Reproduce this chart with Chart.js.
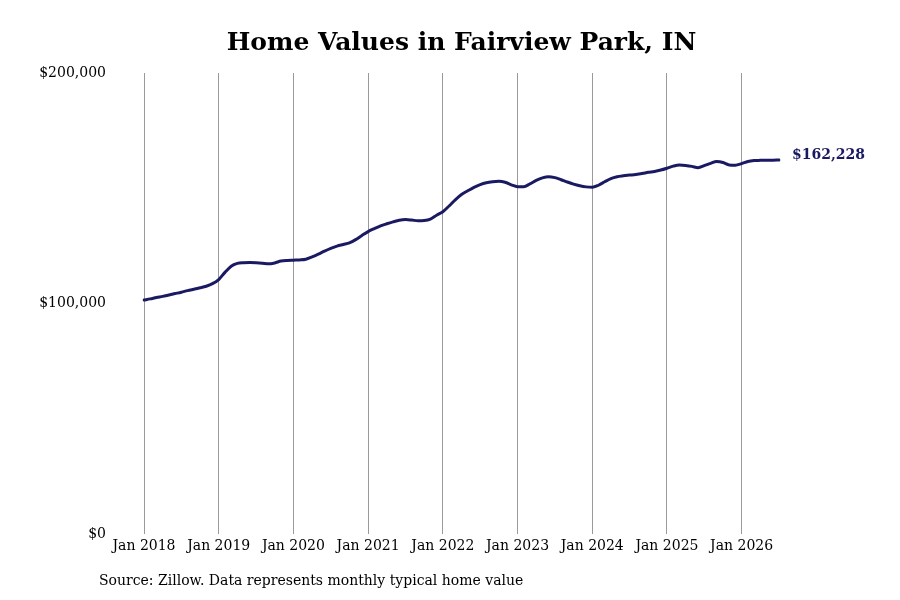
<!DOCTYPE html>
<html>
<head>
<meta charset="utf-8">
<script src="https://cdn.jsdelivr.net/npm/chart.js@4.4.1/dist/chart.umd.min.js"></script>
<style>
  html, body { margin: 0; padding: 0; background: #ffffff; }
  #wrap { width: 900px; height: 600px; position: relative; }
</style>
</head>
<body>
<div id="wrap"><canvas id="homeChart" width="900" height="600"></canvas></div>
<script>
// Data (typical home value, monthly)
const years = [2018, 2019, 2020, 2021, 2022, 2023, 2024, 2025, 2026];
const monthNames = ['Jan', 'Feb', 'Mar', 'Apr', 'May', 'Jun', 'Jul', 'Aug', 'Sep', 'Oct', 'Nov', 'Dec'];

const values2018 = [101500, 102000, 102600, 103100, 103700, 104300, 104900, 105600, 106200, 106800, 107500, 108600];
const values2019 = [110400, 113500, 116200, 117400, 117700, 117800, 117700, 117500, 117200, 117600, 118400, 118700];
const values2020 = [118800, 118900, 119200, 120200, 121400, 122700, 123900, 124900, 125600, 126300, 127700, 129500];
const values2021 = [131200, 132500, 133700, 134600, 135400, 136100, 136400, 136200, 135900, 136000, 136600, 138300];
const values2022 = [139800, 142300, 145000, 147300, 148900, 150400, 151600, 152400, 152800, 153000, 152600, 151500];
const values2023 = [150700, 150700, 151900, 153400, 154500, 155000, 154600, 153700, 152700, 151800, 151100, 150600];
const values2024 = [150400, 151300, 152800, 154200, 155000, 155400, 155700, 156000, 156400, 156900, 157300, 157900];
const values2025 = [158700, 159600, 160100, 159900, 159500, 158900, 159800, 160800, 161600, 161200, 160100, 160000];
const values2026 = [160700, 161600, 162000, 162100, 162200, 162200, 162228];

const yTicks = [0, 100000, 200000];

const homeValues = [].concat(values2018, values2019, values2020, values2021, values2022,
  values2023, values2024, values2025, values2026);

const monthLabels = [];
years.forEach(y => monthNames.forEach(m => monthLabels.push(m + ' ' + y)));
monthLabels.length = homeValues.length;

const lineColor = '#1a1a62';
const serif = "'DejaVu Serif', serif";

// Title, source note and the end-of-line value label
const textPlugin = {
  id: 'textPlugin',
  afterDraw(chart) {
    const ctx = chart.ctx;
    const area = chart.chartArea;
    ctx.save();
    ctx.fillStyle = '#000';
    ctx.font = 'bold 25px ' + serif;
    ctx.textAlign = 'center';
    ctx.textBaseline = 'middle';
    ctx.fillText('Home Values in Fairview Park, IN', (area.left + area.right) / 2, 43);

    ctx.font = '14px ' + serif;
    ctx.textAlign = 'left';
    ctx.fillText('Source: Zillow. Data represents monthly typical home value', 99, 581);

    const meta = chart.getDatasetMeta(0);
    const last = meta.data[meta.data.length - 1];
    const lastVal = homeValues[homeValues.length - 1];
    ctx.fillStyle = lineColor;
    ctx.font = 'bold 14px ' + serif;
    ctx.fillText('$' + lastVal.toLocaleString('en-US'), last.x + 13, last.y - 5);
    ctx.restore();
  }
};

new Chart(document.getElementById('homeChart'), {
  type: 'line',
  data: {
    labels: monthLabels,
    datasets: [{
      data: homeValues,
      borderColor: lineColor,
      borderWidth: 3,
      borderCapStyle: 'round',
      pointRadius: 0,
      tension: 0.4,
      cubicInterpolationMode: 'monotone',
      fill: false
    }]
  },
  options: {
    responsive: false,
    animation: false,
    layout: { padding: { top: 73, right: 121, bottom: 0, left: 0 } },
    plugins: {
      legend: { display: false },
      title: { display: false },
      tooltip: { enabled: false }
    },
    scales: {
      x: {
        offset: false,
        border: { display: false },
        afterFit(scale) { scale.height = 66; },
        grid: {
          drawTicks: false,
          color: ctx => (ctx.tick && ctx.index % 12 === 0) ? '#9a9a9a' : 'rgba(0,0,0,0)',
          lineWidth: 1
        },
        ticks: {
          autoSkip: false,
          maxRotation: 0,
          padding: 4,
          color: '#000',
          font: { family: serif, size: 14 },
          callback(value, index) {
            return index % 12 === 0 ? monthLabels[index] : '';
          }
        }
      },
      y: {
        min: 0,
        max: 200000,
        border: { display: false },
        afterFit(scale) { scale.width = 144; },
        afterBuildTicks(scale) { scale.ticks = yTicks.map(v => ({ value: v })); },
        grid: { display: false, drawTicks: false },
        ticks: {
          padding: 38,
          color: '#000',
          font: { family: serif, size: 14 },
          callback: v => '$' + Number(v).toLocaleString('en-US')
        }
      }
    }
  },
  plugins: [textPlugin]
});
</script>
</body>
</html>
